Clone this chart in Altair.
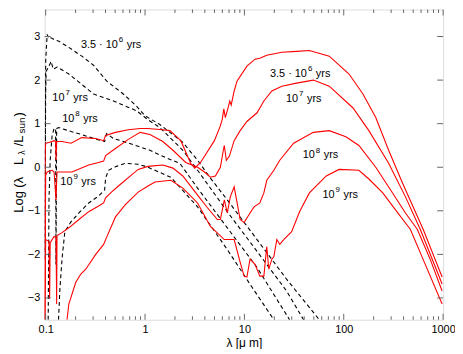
import altair as alt
import pandas as pd

FONT = "Liberation Sans"

# ---- stellar SEDs without dust (black dashed) ----
a_lam = [0.098, 0.1, 0.1035, 0.108, 0.1135, 0.1216, 0.136, 0.171, 0.231, 0.304, 0.41, 0.605, 0.815, 0.957, 1.07, 1.41, 2.40, 3.38, 4.55, 6.73, 13.4, 26.6, 56.8]
a_val = [-1.9, 2.43, 3.05, 2.95, 2.97, 2.93, 2.89, 2.75, 2.55, 2.34, 1.98, 1.68, 1.41, 1.23, 1.14, 0.98, 0.57, 0.16, -0.25, -0.75, -1.66, -2.57, -3.5]

b_lam = [0.098, 0.1, 0.101, 0.108, 0.1135, 0.119, 0.130, 0.171, 0.304, 0.481, 0.815, 0.957, 1.07, 1.41, 2.40, 3.38, 6.73, 13.4, 26.6, 39.4]
b_val = [-2.11, 1.75, 2.2, 2.32, 2.43, 2.25, 2.30, 2.14, 1.68, 1.52, 1.30, 1.18, 1.09, 0.91, 0.39, -0.07, -1.02, -1.93, -2.84, -3.5]

c_lam = [0.106, 0.108, 0.111, 0.116, 0.1216, 0.126, 0.127, 0.129, 0.136, 0.180, 0.231, 0.304, 0.366, 0.392, 0.410, 0.481, 0.649, 0.853, 1.12, 1.51, 2.24, 3.38, 6.73, 13.4, 28.5]
c_val = [-3.5, -0.75, 0.16, 0.73, 0.89, 0.89, -2.23, 0.89, 0.91, 0.82, 0.75, 0.66, 0.61, 0.59, 0.77, 0.66, 0.57, 0.48, 0.39, 0.25, 0.09, -0.48, -1.39, -2.30, -3.5]

d_lam = [0.1347, 0.139, 0.146, 0.156, 0.180, 0.216, 0.271, 0.341, 0.392, 0.401, 0.429, 0.515, 0.634, 0.853, 1.07, 1.82, 3.38, 6.73, 11.9, 19.8]
d_val = [-3.5, -2.80, -2.11, -1.48, -1.25, -1.05, -0.82, -0.66, -0.52, -0.25, -0.07, 0.02, 0.09, 0.07, 0.0, -0.23, -0.91, -1.89, -2.75, -3.5]

# ---- SEDs with dust (red solid) ----
r1_lam = [0.098, 0.0989, 0.1, 0.108, 0.1216, 0.126, 0.127, 0.129, 0.146, 0.180, 0.231, 0.319, 0.383, 0.401, 0.504, 0.679, 0.893, 1.07, 1.51, 1.78, 2.29, 2.88, 3.16, 3.62, 4.99, 5.73, 6.0, 6.21, 6.43, 6.9, 7.13, 7.37, 7.89, 8.45, 10.6, 12.8, 14.3, 16.8, 23.8, 33.5, 45.1, 71.5, 113, 156, 210, 283, 390, 631, 977]
r1_val = [-3.5, 0.39, 0.55, 0.57, 0.61, 0.59, 0.16, 0.59, 0.59, 0.55, 0.68, 0.66, 0.61, 0.73, 0.80, 0.86, 0.89, 0.89, 0.86, 0.84, 0.61, 0.09, -0.02, 0.11, 0.61, 0.95, 1.11, 1.34, 1.14, 1.39, 1.52, 1.43, 1.75, 1.98, 2.32, 2.48, 2.50, 2.57, 2.64, 2.66, 2.68, 2.55, 2.14, 1.68, 1.14, 0.39, -0.36, -1.43, -2.52]

r2_lam = [0.098, 0.1, 0.1035, 0.116, 0.1216, 0.127, 0.130, 0.184, 0.271, 0.341, 0.383, 0.401, 0.504, 0.679, 0.893, 1.12, 1.51, 1.91, 2.57, 3.38, 3.97, 4.55, 5.11, 5.73, 6.14, 6.28, 6.58, 7.05, 7.89, 9.06, 10.6, 13.4, 15.7, 18.9, 23.8, 33.5, 49.4, 71.5, 124, 179, 283, 418, 590, 977]
r2_val = [-3.5, -0.18, -0.11, -0.07, -0.11, -0.75, -0.11, -0.11, 0.05, 0.11, 0.14, 0.27, 0.43, 0.64, 0.80, 0.75, 0.59, 0.39, 0.11, 0.0, -0.11, -0.23, -0.20, 0.0, 0.39, 0.50, 0.16, 0.25, 0.61, 0.84, 1.05, 1.25, 1.52, 1.75, 1.86, 1.93, 2.0, 1.86, 1.36, 0.84, 0.09, -0.68, -1.43, -2.68]

r3_lam = [0.098, 0.1, 0.108, 0.1096, 0.111, 0.1216, 0.127, 0.129, 0.130, 0.146, 0.171, 0.216, 0.271, 0.341, 0.383, 0.401, 0.459, 0.540, 0.728, 0.853, 1.07, 1.51, 1.91, 2.40, 3.38, 4.25, 5.35, 5.73, 6.28, 6.73, 7.21, 7.89, 8.45, 9.06, 9.93, 11.4, 12.5, 14.3, 15.7, 16.8, 19.8, 22.7, 31.3, 49.4, 71.5, 105, 142, 210, 310, 418, 551, 741, 977]
r3_val = [-3.5, -1.66, -1.70, -3.02, -1.73, -1.59, -1.61, -3.14, -1.57, -1.50, -1.39, -1.20, -1.02, -0.89, -0.82, -0.70, -0.57, -0.43, -0.18, -0.05, 0.02, 0.05, -0.02, -0.20, -0.64, -0.93, -1.20, -1.20, -0.75, -1.05, -0.68, -0.45, -0.82, -1.20, -1.27, -1.05, -0.91, -0.82, -0.59, -0.30, -0.07, 0.16, 0.55, 0.80, 0.84, 0.70, 0.50, 0.0, -0.59, -1.05, -1.43, -2.11, -2.84]

r4_lam = [0.164, 0.171, 0.180, 0.201, 0.226, 0.253, 0.319, 0.383, 0.410, 0.504, 0.634, 0.853, 1.07, 1.26, 1.82, 2.40, 3.38, 4.55, 6.28, 7.89, 9.06, 9.93, 10.6, 11.4, 12.8, 14.3, 15.7, 16.8, 17.6, 18.9, 19.8, 21.2, 22.7, 24.9, 29.9, 35.9, 45.1, 66.7, 89.8, 142, 179, 247, 332, 469, 661, 977]
r4_val = [-3.5, -3.14, -2.98, -2.64, -2.45, -2.34, -2.0, -1.77, -1.61, -1.14, -0.86, -0.57, -0.43, -0.34, -0.30, -0.48, -0.82, -1.36, -1.66, -1.66, -2.18, -2.50, -2.52, -2.11, -2.23, -2.50, -2.50, -1.82, -2.34, -2.11, -2.05, -1.66, -1.77, -1.66, -1.48, -1.02, -0.59, -0.20, -0.05, -0.07, -0.27, -0.59, -0.98, -1.43, -2.23, -3.14]

# ---- labels ----
lab_lam = [0.533, 0.1545, 0.1945, 0.186, 42.6, 34.7, 51.2, 80.9]
lab_val = [2.80, 1.59, 1.11, -0.34, 2.14, 1.57, 0.27, -0.64]
lab_pre = ["3.5 \u00b7 10", "10", "10", "10", "3.5 \u00b7 10", "10", "10", "10"]
lab_exp = ["6", "7", "8", "9", "6", "7", "8", "9"]

x_major = [0.1, 1, 10, 100, 1000]
x_minor = [k * 10.0 ** e for e in range(-1, 3) for k in range(2, 10)]
y_ticks = [-3, -2, -1, 0, 1, 2, 3]

W, H = 402, 313


def build(names, lams, vals):
    rows = []
    for n, ls, vs in zip(names, lams, vals):
        for i, (l, v) in enumerate(zip(ls, vs)):
            rows.append({"curve": n, "idx": i, "lam": l, "val": v})
    return pd.DataFrame(rows)


star = build(["a", "b", "c", "d"], [a_lam, b_lam, c_lam, d_lam], [a_val, b_val, c_val, d_val])
dust = build(["r1", "r2", "r3", "r4"], [r1_lam, r2_lam, r3_lam, r4_lam], [r1_val, r2_val, r3_val, r4_val])
labels = pd.DataFrame({"lam": lab_lam, "val": lab_val, "pre": lab_pre, "exp": lab_exp, "suf": ["yrs"] * 8})

xs = alt.Scale(type="log", domain=[0.0977, 1000], nice=False)
ys = alt.Scale(domain=[-3.5, 3.62], nice=False, zero=False)
xax = alt.Axis(values=x_major, format="~g", ticks=False, grid=False, domain=False,
               labelFont=FONT, labelFontSize=11, labelColor="black", labelPadding=4,
               labelFlush=False, title="\u03bb [\u03bc m]", titleFont=FONT, titleFontSize=12,
               titleFontWeight="normal", titleColor="black", titlePadding=3)
yax = alt.Axis(values=y_ticks, ticks=False, grid=False, domain=False,
               labelFont=FONT, labelFontSize=11, labelColor="black", labelPadding=5, title="")

X = alt.X("lam:Q", scale=xs, axis=xax)
Y = alt.Y("val:Q", scale=ys, axis=yax)

stellar = alt.Chart(star).mark_line(color="black", strokeDash=[4, 3], strokeWidth=1.1, clip=True).encode(
    x=X, y=Y, detail="curve:N", order="idx:Q")
dusty = alt.Chart(dust).mark_line(color="#ff0000", strokeWidth=1.1, clip=True).encode(
    x=X, y=Y, detail="curve:N", order="idx:Q")

base_lab = alt.Chart(labels)
t_pre = base_lab.mark_text(align="right", baseline="middle", font=FONT, fontSize=11, color="black").encode(
    x=X, y=Y, text="pre:N")
t_exp = base_lab.mark_text(align="left", baseline="middle", font=FONT, fontSize=8, dx=1, dy=-5, color="black").encode(
    x=X, y=Y, text="exp:N")
t_suf = base_lab.mark_text(align="left", baseline="middle", font=FONT, fontSize=11, dx=9, color="black").encode(
    x=X, y=Y, text="suf:N")

# ticks (inward, MATLAB style)
tick_col = "#666666"
xmaj = pd.DataFrame({"lam": x_major})
xmin = pd.DataFrame({"lam": x_minor})
ytk = pd.DataFrame({"val": y_ticks})
tk = []
tk.append(alt.Chart(xmaj).mark_rule(color=tick_col, strokeWidth=1).encode(x=X, y=alt.value(H), y2=alt.value(H - 6)))
tk.append(alt.Chart(xmaj).mark_rule(color=tick_col, strokeWidth=1).encode(x=X, y=alt.value(0), y2=alt.value(6)))
tk.append(alt.Chart(xmin).mark_rule(color=tick_col, strokeWidth=1).encode(x=X, y=alt.value(H), y2=alt.value(H - 3.5)))
tk.append(alt.Chart(xmin).mark_rule(color=tick_col, strokeWidth=1).encode(x=X, y=alt.value(0), y2=alt.value(3.5)))
tk.append(alt.Chart(ytk).mark_rule(color=tick_col, strokeWidth=1).encode(y=Y, x=alt.value(0), x2=alt.value(6)))
tk.append(alt.Chart(ytk).mark_rule(color=tick_col, strokeWidth=1).encode(y=Y, x=alt.value(W), x2=alt.value(W - 6)))

# y-axis title built from pieces (with subscripts)
yt_text = ["Log (\u03bb", "L", "\u03bb", "/L", "sun", ")"]
yt_y = [205, 157, 146.5, 138, 125, 108]
yt_x = [-26, -26, -22.5, -26, -22.5, -26]
yt_size = [13, 13, 9, 13, 10, 13]
ytitle = []
for t, yy, xx, fs in zip(yt_text, yt_y, yt_x, yt_size):
    ytitle.append(alt.Chart(pd.DataFrame({"t": [t]})).mark_text(
        angle=270, align="left", baseline="middle", font=FONT, fontSize=fs, color="black").encode(
        text="t:N", x=alt.value(xx), y=alt.value(yy)))

chart = alt.layer(stellar, dusty, t_pre, t_exp, t_suf, *tk, *ytitle).properties(
    width=W, height=H,
    padding={"left": 37, "top": 0, "right": 12, "bottom": 28},
    autosize=alt.AutoSizeParams(type="none"),
).configure_view(stroke="#808080", strokeWidth=1.2).configure(background="white")

chart.save("out.html", embed_options={"renderer": "svg", "actions": False})
